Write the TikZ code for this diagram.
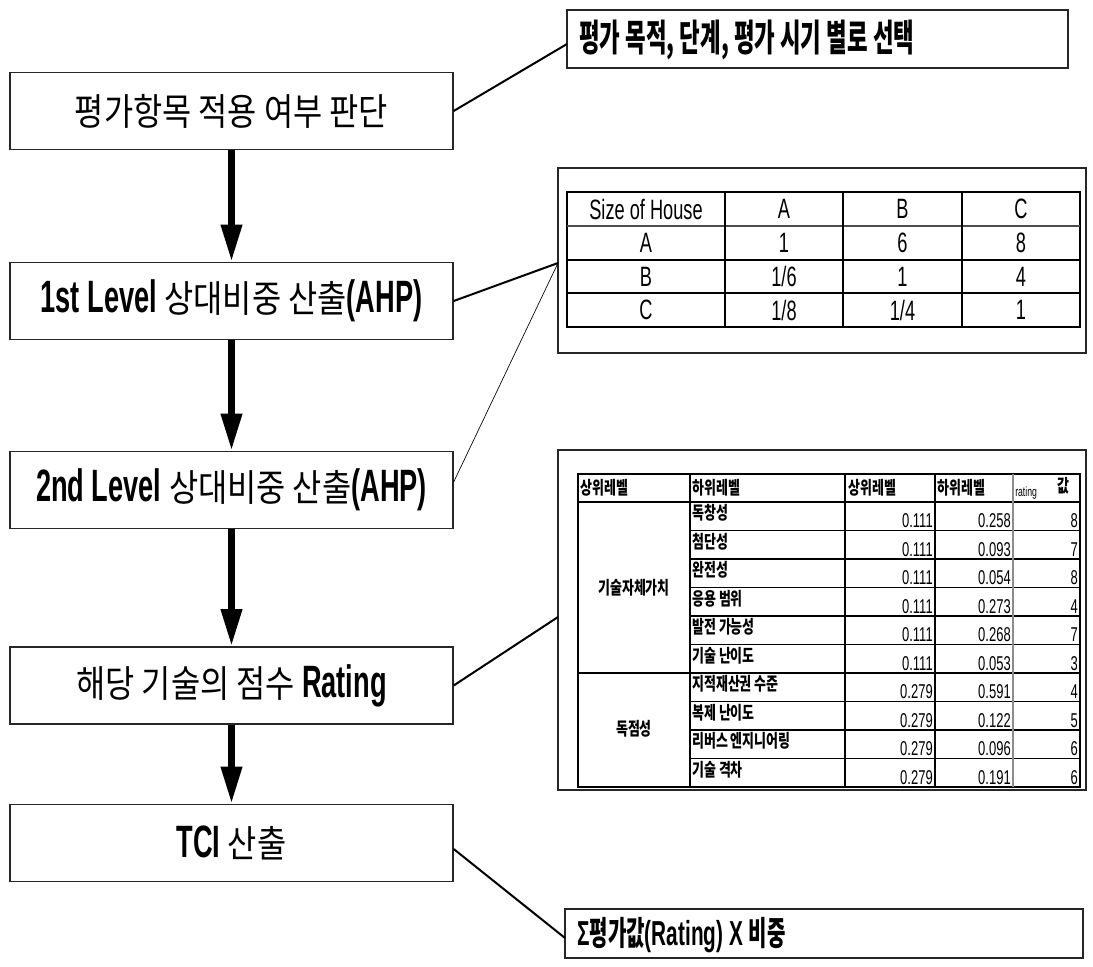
\documentclass[tikz,border=0pt]{standalone}
\usepackage{fontspec}
\usetikzlibrary{arrows.meta,calc}
\newfontfamily\KR{Noto Sans CJK KR}[FakeStretch=0.85]
\newfontfamily\KRB{Noto Sans CJK KR}[FakeStretch=0.6]
\newfontfamily\KRT{Noto Sans CJK KR}[FakeStretch=0.72]
\newfontfamily\LB{Liberation Sans}[FakeStretch=0.6]
\newfontfamily\LN{Liberation Sans}[FakeStretch=0.65]
\newcommand\lbf{\LB\bfseries\fontsize{34pt}{36pt}\selectfont}
\newcommand\rbf{\LB\bfseries\fontsize{26pt}{30pt}\selectfont}
\begin{document}
\begin{tikzpicture}[x=0.75pt,y=-0.75pt,
  lbox/.style={draw=black!85, line width=1pt, minimum width=332.25pt, minimum height=57.75pt, inner sep=0pt, fill=white, font=\KR\fontsize{28pt}{32pt}\selectfont},
  obox/.style={draw=black!85, line width=1pt, inner sep=0pt},
  flow/.style={line width=5.25pt, -{Triangle[width=15pt,length=28pt]}},
  link/.style={line width=1.5pt},
  thinlink/.style={line width=0.5pt},
  rtext/.style={inner sep=0pt, font=\KRB\bfseries\fontsize{28pt}{32pt}\selectfont},
  tline/.style={line width=1.4pt},
  sline/.style={line width=1pt},
  tone/.style={inner sep=0pt, font=\LN\fontsize{21pt}{24pt}\selectfont},
  klab/.style={inner sep=0pt, font=\KRT\bfseries\fontsize{13.5pt}{15pt}\selectfont},
  num/.style={inner sep=0pt, font=\LN\fontsize{15pt}{17pt}\selectfont}]
\useasboundingbox[fill=white] (0,0) rectangle (1093,967);

% left flow boxes
\node[lbox] (b1) at (231.5,111) {평가항목 적용 여부 판단};
\node[lbox] (b2) at (231.5,301) {{\lbf 1st Level }상대비중 산출{\lbf (AHP)}};
\node[lbox] (b3) at (231.5,490) {{\lbf 2nd Level }상대비중 산출{\lbf (AHP)}};
\node[lbox] (b4) at (231.5,685.5) {해당 기술의 점수 {\lbf Rating}};
\node[lbox] (b5) at (231.5,843) {{\lbf TCI }산출};

\draw[flow] (b1) -- (b2);
\draw[flow] (b2) -- (b3);
\draw[flow] (b3) -- (b4);
\draw[flow] (b4) -- (b5);

% right boxes
\node[obox, minimum width=375.75pt, minimum height=43.5pt] (r1) at (817.5,39) {};
\node[rtext, anchor=west] (t1) at (579,40) {평가 목적, 단계, 평가 시기 별로 선택};
\node[obox, minimum width=396pt, minimum height=138.75pt] (r2) at (822,260.5) {};
\node[obox, minimum width=396pt, minimum height=255pt] (r3) at (822,620) {};
\node[obox, minimum width=388.5pt, minimum height=36.75pt] (r4) at (824,933.5) {};
\node[rtext, anchor=west, font=\KRB\bfseries\fontsize{25pt}{30pt}\selectfont] (t4) at (577,935) {{\rbf Σ}평가값{\rbf (Rating) X }비중};

% connectors
\coordinate (p1) at (567,44);
\coordinate (p2) at (558,263);
\coordinate (p4) at (558,617);
\coordinate (p5) at (565,938);
\draw[link] (b1.east) -- (p1);
\draw[link] (b2.east) -- (p2);
\draw[thinlink] ($(b3.east)+(0,-8)$) -- (p2);
\draw[link] (b4.east) -- (p4);
\draw[link] ($(b5.east)+(0,6)$) -- (p5);

% table 1
\draw[tline] (567,192) rectangle (1080,327);
\draw[sline, black!70] (567,226) -- (1080,226);
\draw[tline] (567,260) -- (1080,260);
\draw[tline] (567,293) -- (1080,293);
\draw[tline] (725,192) -- (725,327);
\draw[tline] (843,192) -- (843,327);
\draw[tline] (962,192) -- (962,327);
\node[tone] (h0) at (646,209) {Size of House};
\node[tone] (h1) at (784,209) {A};
\node[tone] (h2) at (902.5,209) {B};
\node[tone] (h3) at (1021,209) {C};
\node[tone] (a0) at (646,243) {A};
\node[tone] (a1) at (784,243) {1};
\node[tone] (a2) at (902.5,243) {6};
\node[tone] (a3) at (1021,243) {8};
\node[tone] (bb0) at (646,276.5) {B};
\node[tone] (bb1) at (784,276.5) {1/6};
\node[tone] (bb2) at (902.5,276.5) {1};
\node[tone] (bb3) at (1021,276.5) {4};
\node[tone] (c0) at (646,310) {C};
\node[tone] (c1) at (784,310) {1/8};
\node[tone] (c2) at (902.5,310) {1/4};
\node[tone] (c3) at (1021,310) {1};

% table 2
\draw[sline] (578,474) rectangle (1080,787);
\draw[sline] (578,502) -- (1080,502);
\draw[sline] (578,673) -- (1080,673);
\foreach \i in {1,...,5,7,8,9} {\draw[sline] (690,{502+28.5*\i}) -- (1080,{502+28.5*\i});}
\draw[sline] (690,474) -- (690,787);
\draw[sline] (845,474) -- (845,787);
\draw[sline] (935,474) -- (935,787);
\draw[line width=1.4pt, black!45] (1013,474) -- (1013,787);
\node[klab, anchor=west] (s1) at (580,488) {상위레벨};
\node[klab, anchor=west] (s2) at (692,488) {하위레벨};
\node[klab, anchor=west] (s3) at (848,488) {상위레벨};
\node[klab, anchor=west] (s4) at (937,488) {하위레벨};
\node[inner sep=0pt, anchor=west, font=\LN\fontsize{10pt}{12pt}\selectfont] (s5) at (1015,493) {rating};
\node[klab] (s6) at (1063,486) {값};
\node[klab] (g1) at (634,588) {기술자체가치};
\node[klab] (g2) at (634,729) {독점성};
\foreach \lab/\ua/\lb/\rt [count=\i from 0] in {독창성/0.111/0.258/8, 첨단성/0.111/0.093/7, 완전성/0.111/0.054/8, 응용 범위/0.111/0.273/4, 발전 가능성/0.111/0.268/7, 기술 난이도/0.111/0.053/3, 지적재산권 수준/0.279/0.591/4, 복제 난이도/0.279/0.122/5, 리버스 엔지니어링/0.279/0.096/6, 기술 격차/0.279/0.191/6}{
  \pgfmathsetmacro\yt{502+28.5*\i}
  \node[klab, anchor=west] (lab\i) at (692,{\yt+11}) {\lab};
  \node[num, anchor=east] (ua\i) at (933,{\yt+19}) {\ua};
  \node[num, anchor=east] (lb\i) at (1011,{\yt+19}) {\lb};
  \node[num, anchor=east] (rt\i) at (1078,{\yt+19}) {\rt};
}
\end{tikzpicture}
\end{document}
